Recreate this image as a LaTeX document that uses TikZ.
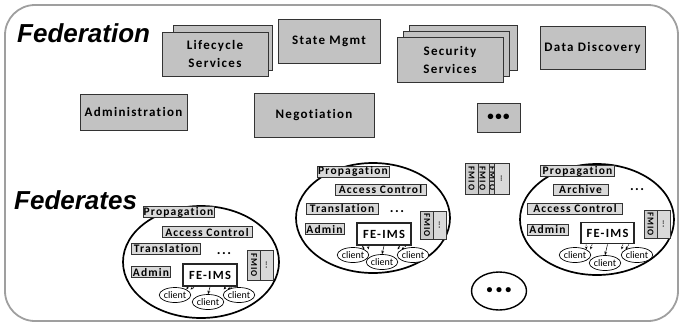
\documentclass[tikz,border=0pt]{standalone}
\usepackage{fontspec}
\setmainfont{Carlito}
\newfontfamily\labfont{Carlito}[LetterSpace=10, Ligatures=NoCommon]
\newfontfamily\titfont{Liberation Sans}
\usetikzlibrary{shapes.geometric,arrows.meta}
\tikzset{
  fedbox/.style={draw=black!80, fill=gray!48, line width=0.9pt, inner sep=0pt, align=center,
    font=\labfont\bfseries\fontsize{13}{18}\selectfont},
  lab/.style={draw=black!80, fill=gray!30, line width=0.8pt, inner sep=0pt, minimum height=11pt,
    font=\labfont\bfseries\fontsize{11.5}{11.5}\selectfont},
  febox/.style={draw=black!85, fill=white, line width=1.8pt, inner sep=0pt, minimum width=54pt, minimum height=22pt,
    font=\labfont\bfseries\fontsize{12.5}{12.5}\selectfont},
  fmio/.style={draw=black!80, fill=gray!40, line width=0.7pt, inner sep=0pt, rotate=-90, minimum height=13pt,
    font=\labfont\bfseries\fontsize{9}{9}\selectfont},
  fmdots/.style={draw=black!80, fill=gray!30, line width=0.7pt, inner sep=0pt, rotate=-90, minimum height=13pt,
    font=\bfseries\fontsize{8}{9}\selectfont},
  fedell/.style={draw=black, ellipse, line width=1.7pt, inner sep=0pt},
  client/.style={draw=black, ellipse, line width=0.7pt, fill=white, inner sep=0pt, minimum width=31pt, minimum height=15pt,
    font=\fontsize{10}{10}\selectfont},
  dotstxt/.style={inner sep=0pt, font=\labfont\bfseries\fontsize{14}{14}\selectfont},
  title/.style={anchor=base west, inner sep=0pt, font=\titfont\bfseries\itshape\fontsize{26}{30}\selectfont},
  carrow/.style={-{Stealth[length=3.5pt,width=2.8pt]}, line width=0.5pt},
  darrow/.style={-{Stealth[length=3pt,width=2.5pt]}, line width=0.5pt, dash pattern=on 1.5pt off 1pt},
}
\begin{document}
\begin{tikzpicture}[x=1pt,y=-1pt]
\useasboundingbox (0,0) rectangle (682,325);
% outer frame
\draw[gray!75, line width=1.8pt, rounded corners=30pt] (5,5) rectangle (678,321);

% titles
\node[title] (fedtitle) at (17,42) {Federation};
\node[title] (fedstitle) at (14,209) {Federates};

% Federation services
\node[fedbox, minimum width=99pt, minimum height=45pt] (life2) at (222.5,47.5) {};
\node[fedbox, minimum width=106pt, minimum height=44pt] (life1) at (215,54) {Lifecycle\\Services};
\node[fedbox, minimum width=102pt, minimum height=44pt] (state) at (329,41) {State Mgmt};
\node[fedbox, minimum width=108pt, minimum height=45pt] (sec3) at (463,47.5) {};
\node[fedbox, minimum width=106pt, minimum height=45pt] (sec2) at (456,53.5) {};
\node[fedbox, minimum width=106pt, minimum height=45pt] (sec1) at (450,59.5) {Security\\Services};
\node[fedbox, minimum width=105pt, minimum height=43pt] (data) at (592.5,47.5) {Data Discovery};
\node[fedbox, minimum width=107pt, minimum height=36pt] (admin) at (133.5,112) {Administration};
\node[fedbox, minimum width=120pt, minimum height=44pt] (nego) at (314,115) {Negotiation};
\node[fedbox, minimum width=43pt, minimum height=29pt, font=\bfseries\fontsize{13}{13}\selectfont] (more) at (498.5,117.5) {•\hspace{1.5pt}•\hspace{1.5pt}•};

% ---------- left federate ----------
\node[fedell, minimum width=156pt, minimum height=112pt] (Lell) at (201,262) {};
\node[lab, minimum width=71pt] (Lprop) at (178.5,212) {Propagation};
\node[lab, minimum width=90pt] (Lacc) at (207,232) {Access Control};
\node[lab, minimum width=69pt] (Ltrans) at (166,249) {Translation};
\node[dotstxt] (Ldots) at (224,254) {...};
\node[lab, minimum width=39pt] (Ladmin) at (151,272) {Admin};
\node[fmio, minimum width=30pt] (Lfm) at (254,265) {FMIO};
\node[fmdots, minimum width=30pt] (Lfd) at (266.5,265) {...};
\node[febox] (Lfe) at (210,275) {FE-IMS};
\node[client] (Lc1) at (175,295) {client};
\node[client] (Lc3) at (239,295) {client};
\node[client] (Lc2) at (208,302) {client};
\draw[carrow] (Lfe.south) -- (Lc2.north);
\draw[darrow] ([xshift=6pt]Lfe.south west) -- (Lc1.north east);
\draw[darrow] ([xshift=12pt]Lfe.south west) -- ([xshift=4pt]Lc1.north east);
\draw[darrow] ([xshift=-6pt]Lfe.south east) -- (Lc3.north west);
\draw[darrow] ([xshift=-12pt]Lfe.south east) -- ([xshift=-4pt]Lc3.north west);

% ---------- middle federate ----------
\node[fedell, minimum width=154pt, minimum height=110pt] (Mell) at (373,218) {};
\node[lab, minimum width=72pt] (Mprop) at (353,171.5) {Propagation};
\node[lab, minimum width=91pt] (Macc) at (380.5,190) {Access Control};
\node[lab, minimum width=72pt] (Mtrans) at (342,209) {Translation};
\node[dotstxt] (Mdots) at (397,212) {...};
\node[lab, minimum width=39pt] (Madmin) at (324.5,229) {Admin};
\node[fmio, minimum width=28pt] (Mfm) at (427,225) {FMIO};
\node[fmdots, minimum width=28pt] (Mfd) at (439.5,225) {...};
\node[febox] (Mfe) at (384,234) {FE-IMS};
\node[client] (Mc1) at (353,255) {client};
\node[client] (Mc3) at (413,255) {client};
\node[client] (Mc2) at (382,262) {client};
\draw[carrow] (Mfe.south) -- (Mc2.north);
\draw[darrow] ([xshift=6pt]Mfe.south west) -- (Mc1.north east);
\draw[darrow] ([xshift=12pt]Mfe.south west) -- ([xshift=4pt]Mc1.north east);
\draw[darrow] ([xshift=-6pt]Mfe.south east) -- (Mc3.north west);
\draw[darrow] ([xshift=-12pt]Mfe.south east) -- ([xshift=-4pt]Mc3.north west);

% ---------- FMIO stack ----------
\node[fmio, minimum width=31pt] (SfmC) at (492.5,178.5) {FMIO};
\node[fmdots, minimum width=31pt, minimum height=15pt] (Sfd) at (501.5,178.5) {...};
\node[fmio, minimum width=31pt] (SfmB) at (482.5,178.5) {FMIO};
\node[fmio, minimum width=31pt] (SfmA) at (471.5,178.5) {FMIO};

% ---------- right federate ----------
\node[fedell, minimum width=154pt, minimum height=111pt] (Rell) at (597,219.5) {};
\node[lab, minimum width=74pt] (Rprop) at (577.5,171) {Propagation};
\node[lab, minimum width=55pt] (Rarch) at (580.5,189.5) {Archive};
\node[dotstxt] (Rdots) at (637,190) {...};
\node[lab, minimum width=95pt] (Racc) at (575,209) {Access Control};
\node[lab, minimum width=41pt] (Radmin) at (547.5,229.5) {Admin};
\node[fmio, minimum width=28pt] (Rfm) at (650.5,224) {FMIO};
\node[fmdots, minimum width=28pt] (Rfd) at (663.5,224) {...};
\node[febox, minimum width=53pt, minimum height=21pt] (Rfe) at (607.5,233) {FE-IMS};
\node[client] (Rc1) at (575,255) {client};
\node[client] (Rc3) at (637,255) {client};
\node[client] (Rc2) at (605,263) {client};
\draw[carrow] (Rfe.south) -- (Rc2.north);
\draw[darrow] ([xshift=6pt]Rfe.south west) -- (Rc1.north east);
\draw[darrow] ([xshift=12pt]Rfe.south west) -- ([xshift=4pt]Rc1.north east);
\draw[darrow] ([xshift=-6pt]Rfe.south east) -- (Rc3.north west);
\draw[darrow] ([xshift=-12pt]Rfe.south east) -- ([xshift=-4pt]Rc3.north west);

% ---------- further federates ----------
\node[fedell, line width=1.4pt, minimum width=55pt, minimum height=38pt, font=\bfseries\fontsize{12}{12}\selectfont] (moreF) at (499,291) {•\hspace{3.5pt}•\hspace{3.5pt}•};
\end{tikzpicture}
\end{document}
